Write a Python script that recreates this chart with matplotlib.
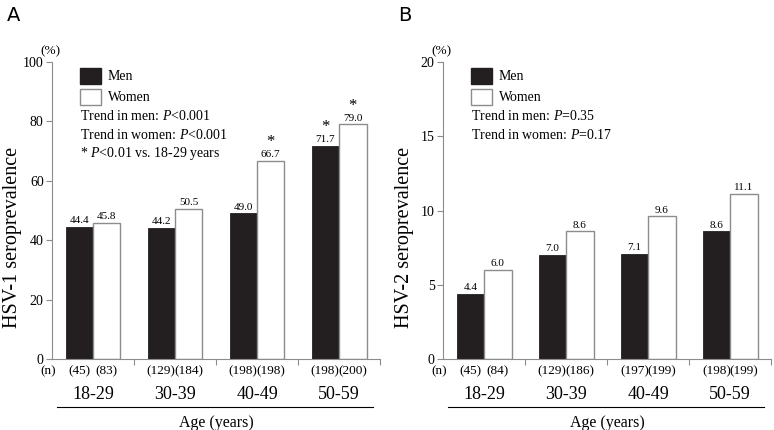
import matplotlib.pyplot as plt
from matplotlib.patches import Rectangle

plt.rcParams['font.family'] = ['Liberation Serif', 'DejaVu Serif']
plt.rcParams['mathtext.fontset'] = 'custom'
plt.rcParams['mathtext.it'] = 'Liberation Serif:italic'
plt.rcParams['mathtext.rm'] = 'Liberation Serif'

ages = ['18-29', '30-39', '40-49', '50-59']

hsv1_men = [44.4, 44.2, 49.0, 71.7]
hsv1_women = [45.8, 50.5, 66.7, 79.0]
hsv1_n_men = [45, 129, 198, 198]
hsv1_n_women = [83, 184, 198, 200]
hsv1_star_men = [False, False, False, True]
hsv1_star_women = [False, False, True, True]

hsv2_men = [4.4, 7.0, 7.1, 8.6]
hsv2_women = [6.0, 8.6, 9.6, 11.1]
hsv2_n_men = [45, 129, 197, 198]
hsv2_n_women = [84, 186, 199, 199]

men_color = '#231f20'
edge_gray = '#8c8c8c'

fig = plt.figure(figsize=(7.74, 4.30), dpi=100)


def panel(left, men, women, n_men, n_women, ymax, ystep, ylabel, letter,
          notes, star_men=None, star_women=None):
    ax = fig.add_axes([left, 0.1651, 0.4238, 0.6907])
    w = 0.335
    xs = range(len(ages))
    xm = [i - w / 2 for i in xs]
    xw = [i + w / 2 for i in xs]
    ax.bar(xm, men, width=w, color=men_color, edgecolor=men_color, linewidth=0.6)
    ax.bar(xw, women, width=w, color='white', edgecolor=edge_gray, linewidth=1.0)
    ax.set_xlim(-0.5, 3.5)
    ax.set_ylim(0, ymax)
    ax.set_yticks(range(0, ymax + 1, ystep))
    ax.tick_params(axis='y', labelsize=10, length=4, width=0.8, color=edge_gray, pad=2)
    ax.set_xticks([0.5, 1.5, 2.5, 3.5])
    ax.set_xticklabels([])
    ax.tick_params(axis='x', length=4, width=0.8, color=edge_gray)
    for s in ['top', 'right']:
        ax.spines[s].set_visible(False)
    for s in ['left', 'bottom']:
        ax.spines[s].set_color(edge_gray)
        ax.spines[s].set_linewidth(0.8)

    off = ymax * 0.006
    ny = -ymax * 0.041
    for i in xs:
        ax.text(xm[i], men[i] + off, f'{men[i]:.1f}', ha='center', va='bottom', fontsize=8)
        ax.text(xw[i], women[i] + off, f'{women[i]:.1f}', ha='center', va='bottom', fontsize=8)
        if star_men and star_men[i]:
            ax.text(xm[i], men[i] + ymax * 0.036, '*', ha='center', va='bottom', fontsize=12)
        if star_women and star_women[i]:
            ax.text(xw[i], women[i] + ymax * 0.036, '*', ha='center', va='bottom', fontsize=12)
        # n labels
        ax.text(xm[i], ny, f'({n_men[i]})', ha='center', va='center', fontsize=9.5)
        ax.text(xw[i], ny, f'({n_women[i]})', ha='center', va='center', fontsize=9.5)
        ax.text(i, -ymax * 0.12, ages[i], ha='center', va='center', fontsize=13)
    ax.text(-0.55, ny, '(n)', ha='center', va='center', fontsize=9.5)
    ax.plot([-0.44, 3.42], [-ymax * 0.16, -ymax * 0.16], color='black', lw=0.8,
            clip_on=False)
    ax.text(1.5, -ymax * 0.215, 'Age (years)', ha='center', va='center', fontsize=11.5)
    ax.text(-0.52, ymax * 1.015, '(%)', ha='center', va='bottom', fontsize=9.5)
    ax.set_ylabel(ylabel, fontsize=14.5)
    ax.yaxis.set_label_coords(-0.09, 0.41)

    # legend
    ax.add_patch(Rectangle((-0.16, ymax * 0.925), 0.26, ymax * 0.055,
                           facecolor=men_color, edgecolor=men_color, clip_on=False))
    ax.add_patch(Rectangle((-0.16, ymax * 0.855), 0.26, ymax * 0.055,
                           facecolor='white', edgecolor=edge_gray, lw=1.0, clip_on=False))
    ax.text(0.18, ymax * 0.95, 'Men', va='center', fontsize=10)
    ax.text(0.18, ymax * 0.88, 'Women', va='center', fontsize=10)
    for k, t in enumerate(notes):
        ax.text(-0.16, ymax * (0.818 - 0.063 * k), t, va='center', fontsize=10)

    fig.text(left - 0.058, 0.985, letter, fontsize=14, family='DejaVu Sans',
             ha='left', va='top')
    return ax


panel(0.0672, hsv1_men, hsv1_women, hsv1_n_men, hsv1_n_women, 100, 20,
      'HSV-1 seroprevalence', 'A',
      ['Trend in men: $P$<0.001', 'Trend in women: $P$<0.001',
       '* $P$<0.01 vs. 18-29 years'],
      hsv1_star_men, hsv1_star_women)
panel(0.5724, hsv2_men, hsv2_women, hsv2_n_men, hsv2_n_women, 20, 5,
      'HSV-2 seroprevalence', 'B',
      ['Trend in men: $P$=0.35', 'Trend in women: $P$=0.17'])

fig.savefig('out.png', dpi=100)
